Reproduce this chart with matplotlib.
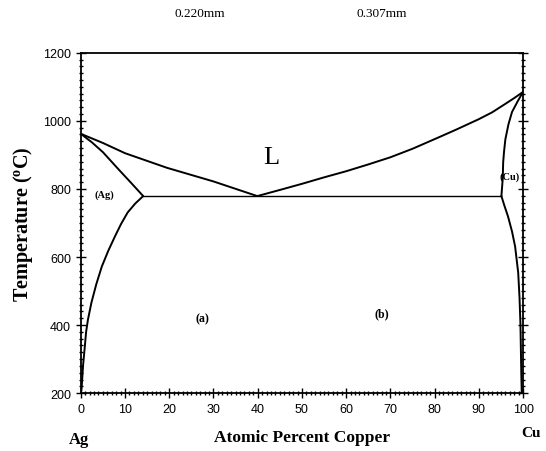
import numpy as np
import matplotlib
matplotlib.use("Agg")
import matplotlib.pyplot as plt
from matplotlib.ticker import MultipleLocator

# Ag-Cu phase diagram (at% Cu, deg C)
liq_left_x = [0.0, 5.0, 10.0, 19.5, 30.0, 39.9]
liq_left_t = [962, 935, 905, 862, 822, 779]

liq_right_x = [39.9, 45.0, 50.0, 55.0, 60.0, 65.0, 70.0, 75.0, 81.0,
               85.0, 90.0, 93.0, 96.0, 98.0, 100.0]
liq_right_t = [779, 797, 815, 834, 852, 872, 893, 918, 952,
               975, 1005, 1025, 1050, 1067, 1085]

sol_left_x = [0.0, 2.5, 5.0, 8.5, 11.5, 14.1]
sol_left_t = [962, 937, 908, 858, 816, 779]

solv_left_x = [14.1, 12.3, 10.6, 9.1, 7.7, 6.2, 4.75, 3.5, 2.4, 1.6,
               1.2, 0.9, 0.5, 0.2, 0.0]
solv_left_t = [779, 757, 731, 697, 660, 618, 572, 520, 466, 415,
               380, 336, 280, 218, 200]

sol_right_x = [100.0, 98.8, 97.5, 96.7, 96.0, 95.7, 95.5, 95.4, 95.1]
sol_right_t = [1085, 1058, 1026, 990, 946, 910, 878, 830, 779]

solv_right_x = [95.1, 95.8, 96.6, 97.5, 98.2, 98.9, 99.2, 99.4, 99.6, 99.7]
solv_right_t = [779, 750, 719, 675, 631, 554, 480, 406, 259, 200]

eutectic_x = [14.1, 95.1]
eutectic_t = [779, 779]

serif = "Liberation Serif"
sans = "Liberation Sans"

fig = plt.figure(figsize=(5.46, 4.52), dpi=100)
ax = fig.add_axes([0.148, 0.128, 0.810, 0.753])

lw = 1.4
for xs, ts in [(liq_left_x, liq_left_t), (liq_right_x, liq_right_t),
               (sol_left_x, sol_left_t), (solv_left_x, solv_left_t),
               (sol_right_x, sol_right_t), (solv_right_x, solv_right_t)]:
    ax.plot(xs, ts, color="black", linewidth=lw, solid_joinstyle="round",
            solid_capstyle="round")
ax.plot(eutectic_x, eutectic_t, color="black", linewidth=1.0)

ax.set_xlim(0, 100)
ax.set_ylim(200, 1200)
ax.xaxis.set_major_locator(MultipleLocator(10))
ax.xaxis.set_minor_locator(MultipleLocator(1))
ax.yaxis.set_major_locator(MultipleLocator(200))
ax.yaxis.set_minor_locator(MultipleLocator(20))
ax.tick_params(which="both", right=True, top=False, width=1.0)
ax.tick_params(which="major", direction="inout", length=7)
ax.tick_params(which="minor", direction="inout", length=3)
for lab in ax.get_xticklabels() + ax.get_yticklabels():
    lab.set_fontfamily(sans)
    lab.set_fontsize(9)
for sp in ax.spines.values():
    sp.set_linewidth(1.3)

ax.set_xlabel("Atomic Percent Copper", fontfamily=serif, fontweight="bold",
              fontsize=12.5, labelpad=10)
ax.set_ylabel("Temperature ($\\mathregular{^oC}$)", fontfamily=serif,
              fontweight="bold", fontsize=14.5, labelpad=6)

# region labels
ax.text(43, 893, "L", fontfamily=serif, fontsize=19, ha="center", va="center")
ax.text(5.4, 784, "(Ag)", fontfamily=serif, fontweight="bold", fontsize=7.5,
        ha="center", va="center")
ax.text(97.0, 837, "(Cu)", fontfamily=serif, fontweight="bold", fontsize=7.5,
        ha="center", va="center")
ax.text(27.6, 421, "(a)", fontfamily=serif, fontweight="bold", fontsize=8.5,
        ha="center", va="center")
ax.text(68.0, 436, "(b)", fontfamily=serif, fontweight="bold", fontsize=8.5,
        ha="center", va="center")

# labels outside the axes
fig.text(0.145, 0.027, "Ag", fontfamily=serif, fontweight="bold", fontsize=12,
         ha="center", va="center")
fig.text(0.972, 0.040, "Cu", fontfamily=serif, fontweight="bold", fontsize=11,
         ha="center", va="center")
fig.text(0.366, 0.969, "0.220mm", fontfamily=serif, fontsize=9.5,
         ha="center", va="center")
fig.text(0.700, 0.969, "0.307mm", fontfamily=serif, fontsize=9.5,
         ha="center", va="center")

fig.savefig("out.png", dpi=100)
